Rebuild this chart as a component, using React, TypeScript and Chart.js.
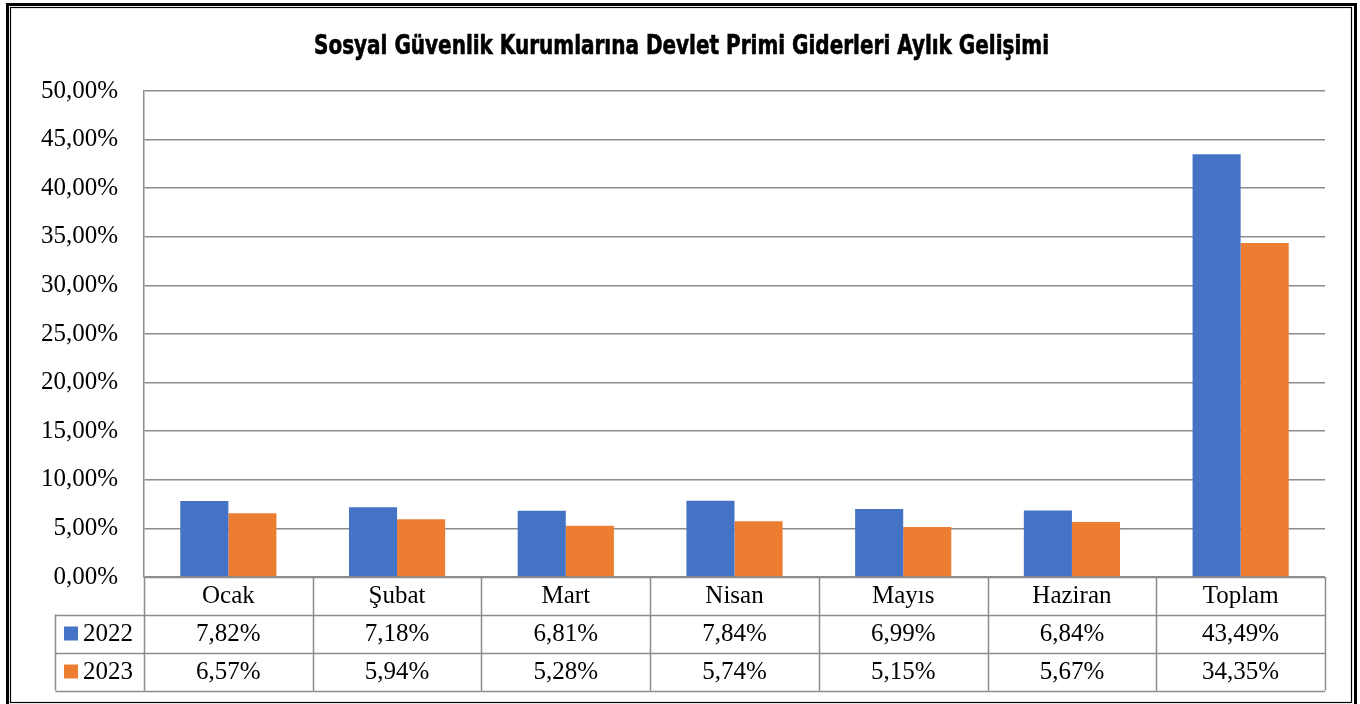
import React, { useEffect, useRef } from "react";
import { Chart, registerables } from "chart.js";

Chart.register(...registerables);

const TITLE = "Sosyal Güvenlik Kurumlarına Devlet Primi Giderleri Aylık Gelişimi";
const CATEGORIES = ["Ocak", "Şubat", "Mart", "Nisan", "Mayıs", "Haziran", "Toplam"];
const SERIES_NAMES = ["2022", "2023"];
const VALUES_2022 = [7.82, 7.18, 6.81, 7.84, 6.99, 6.84, 43.49];
const VALUES_2023 = [6.57, 5.94, 5.28, 5.74, 5.15, 5.67, 34.35];
const COLORS = ["#4472C4", "#ED7D31"];
const Y_MIN = 0;
const Y_MAX = 50;
const Y_STEP = 5;

const fmtPct = (v: number) => v.toFixed(2).replace(".", ",") + "%";

const SERIF = "'Liberation Serif', 'Times New Roman', serif";
const GRID = "#8c8c8c";

const framePlugin = {
  id: "frameAndTable",
  beforeDraw(chart: any) {
    const ctx = chart.ctx;
    ctx.save();
    ctx.fillStyle = "#ffffff";
    ctx.fillRect(0, 0, chart.width, chart.height);
    ctx.restore();
  },
  afterDraw(chart: any) {
    const ctx = chart.ctx;
    const area = chart.chartArea;
    const W = chart.width;
    const H = chart.height;
    ctx.save();
    // Frame: thick outer, thin inner
    ctx.strokeStyle = "#000";
    ctx.lineWidth = 3;
    ctx.strokeRect(7.5, 4.5, W - 7.5 - 4.5, H + 10);
    ctx.lineWidth = 1.2;
    ctx.strokeRect(10.5, 7.5, W - 10.5 - 8.5, H - 7.5 - 1.5);

    // Title
    ctx.fillStyle = "#000";
    ctx.strokeStyle = "#000";
    ctx.lineWidth = 0.6;
    ctx.font = "bold 26px 'Liberation Sans Narrow', 'DejaVu Sans Condensed', 'Liberation Sans', sans-serif";
    ctx.textBaseline = "alphabetic";
    ctx.textAlign = "left";
    const tw = ctx.measureText(TITLE).width;
    const targetW = 735;
    const sx = targetW / tw;
    ctx.save();
    ctx.translate(314, 53.5);
    ctx.scale(sx, 1);
    ctx.fillText(TITLE, 0, 0);
    ctx.strokeText(TITLE, 0, 0);
    ctx.restore();

    // Data table
    const left = area.left;
    const right = area.right;
    const n = CATEGORIES.length;
    const colW = (right - left) / n;
    const rowTop = area.bottom;
    const rowH = [37.5, 38, 38];
    const y1 = rowTop + rowH[0];
    const y2 = y1 + rowH[1];
    const y3 = y2 + rowH[2];
    const legendLeft = 55.5;

    ctx.strokeStyle = GRID;
    ctx.lineWidth = 1.5;
    ctx.beginPath();
    ctx.moveTo(left, Math.round(rowTop) + 0.5);
    ctx.lineTo(right, Math.round(rowTop) + 0.5);
    ctx.moveTo(legendLeft, Math.round(y1) + 0.5);
    ctx.lineTo(right, Math.round(y1) + 0.5);
    ctx.moveTo(legendLeft, Math.round(y2) + 0.5);
    ctx.lineTo(right, Math.round(y2) + 0.5);
    ctx.moveTo(legendLeft, Math.round(y3) + 0.5);
    ctx.lineTo(right, Math.round(y3) + 0.5);
    for (let i = 0; i <= n; i++) {
      const x = Math.round(left + i * colW) + 0.5;
      ctx.moveTo(x, rowTop);
      ctx.lineTo(x, y3);
    }
    ctx.moveTo(legendLeft, y1);
    ctx.lineTo(legendLeft, y3);
    ctx.stroke();

    ctx.fillStyle = "#000";
    ctx.font = "25px " + SERIF;
    ctx.textAlign = "center";
    ctx.textBaseline = "middle";
    const series = [VALUES_2022, VALUES_2023];
    for (let i = 0; i < n; i++) {
      const cx = left + (i + 0.5) * colW;
      ctx.fillText(CATEGORIES[i], cx, rowTop + rowH[0] / 2 + 1);
      ctx.fillText(fmtPct(series[0][i]), cx, y1 + rowH[1] / 2 + 1);
      ctx.fillText(fmtPct(series[1][i]), cx, y2 + rowH[2] / 2 + 1);
    }
    const rowsY = [y1, y2];
    for (let s = 0; s < 2; s++) {
      const cy = rowsY[s] + rowH[s + 1] / 2;
      ctx.fillStyle = COLORS[s];
      ctx.fillRect(64, cy - 7, 14, 14);
      ctx.fillStyle = "#000";
      ctx.textAlign = "left";
      ctx.fillText(SERIES_NAMES[s], 83, cy + 1);
    }
    ctx.restore();
  },
};

export default function App() {
  const ref = useRef<HTMLCanvasElement | null>(null);
  useEffect(() => {
    document.body.style.margin = "0";
    const canvas = ref.current!;
    const chart = new Chart(canvas, {
      type: "bar",
      data: {
        labels: CATEGORIES,
        datasets: [
          {
            label: SERIES_NAMES[0],
            data: VALUES_2022,
            backgroundColor: COLORS[0],
            categoryPercentage: 0.57,
            barPercentage: 1.0,
          },
          {
            label: SERIES_NAMES[1],
            data: VALUES_2023,
            backgroundColor: COLORS[1],
            categoryPercentage: 0.57,
            barPercentage: 1.0,
          },
        ],
      },
      options: {
        animation: false,
        responsive: false,
        devicePixelRatio: 1,
        layout: { padding: { top: 91, left: 0, right: 35, bottom: 127 } },
        plugins: {
          legend: { display: false },
          title: { display: false },
          tooltip: { enabled: false },
        },
        scales: {
          x: {
            grid: { display: false },
            border: { display: false },
            ticks: { display: false },
            afterFit: (s: any) => {
              s.height = 0;
            },
          },
          y: {
            min: Y_MIN,
            max: Y_MAX,
            ticks: {
              stepSize: Y_STEP,
              padding: 26,
              color: "#000",
              font: { family: SERIF, size: 25 },
              callback: (v: any) => fmtPct(Number(v)),
            },
            grid: { color: GRID, lineWidth: 1.5, drawTicks: false },
            border: { display: true, color: GRID, width: 1.5 },
            afterFit: (s: any) => {
              s.width = 144;
            },
          },
        },
      },
      plugins: [framePlugin],
    });
    return () => chart.destroy();
  }, []);
  return (
    <div style={{ position: "absolute", left: 0, top: 0, width: 1360, height: 704 }}>
      <canvas ref={ref} width={1360} height={704} style={{ display: "block" }} />
    </div>
  );
}
